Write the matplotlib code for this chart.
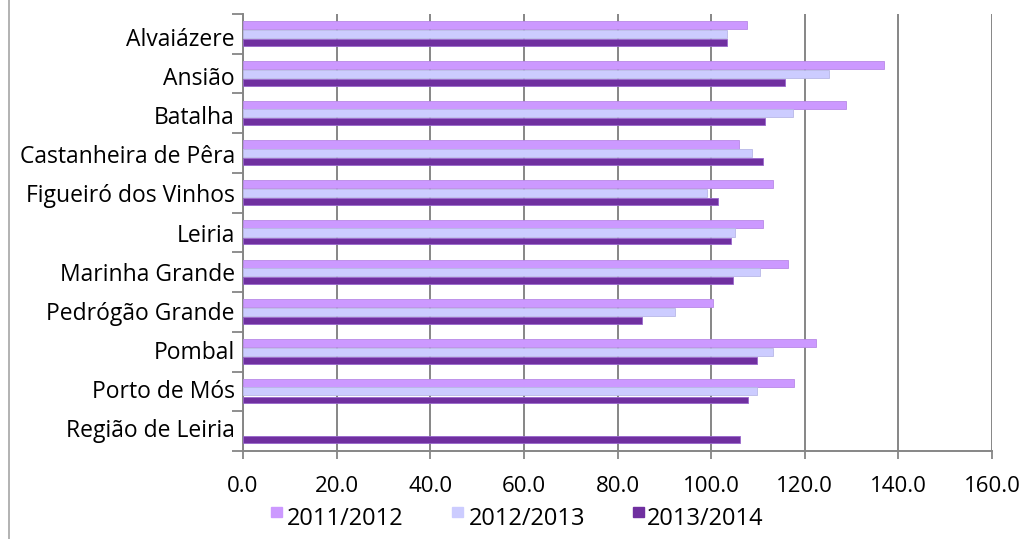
import matplotlib
matplotlib.use("Agg")
import matplotlib.pyplot as plt
import numpy as np
from matplotlib import font_manager
from matplotlib.lines import Line2D
from matplotlib.patches import Rectangle
from matplotlib.transforms import ScaledTranslation, blended_transform_factory

categories = ["Alvaiázere", "Ansião", "Batalha", "Castanheira de Pêra",
              "Figueiró dos Vinhos", "Leiria", "Marinha Grande",
              "Pedrógão Grande", "Pombal", "Porto de Mós", "Região de Leiria"]
series_names = ["2011/2012", "2012/2013", "2013/2014"]
v_2011 = [107.6, 137.0, 128.8, 105.9, 113.2, 111.0, 116.5, 100.3, 122.3, 117.7, np.nan]
v_2012 = [103.3, 125.2, 117.4, 108.8, 99.1, 105.0, 110.5, 92.2, 113.2, 109.9, np.nan]
v_2013 = [103.3, 115.8, 111.6, 111.0, 101.4, 104.2, 104.7, 85.2, 109.8, 107.9, 106.2]
x_ticks = [0, 20, 40, 60, 80, 100, 120, 140, 160]
colors = ["#CC99FF", "#CCCCFF", "#7030A0"]

installed = {f.name for f in font_manager.fontManager.ttflist}
font = "Open Sans" if "Open Sans" in installed else "DejaVu Sans"

W, H = 1027, 539
fig = plt.figure(figsize=(W / 100, H / 100), dpi=100)
ax = fig.add_axes([243 / W, 1 - 451 / H, (992 - 243) / W, (451 - 14) / H])

n = len(categories)
y = np.arange(n)
step = 0.215
grey = "#868686"

for vals, off, col, edge, bh in zip([v_2011, v_2012, v_2013], [-step, 0, step], colors,
                                    ["#B88AE6", "#B8B8E6", "#9966CC"], [0.205, 0.205, 0.17]):
    ax.barh(y + off, vals, height=bh, color=col, edgecolor=edge, linewidth=0.6, zorder=3)

ax.set_xlim(0, 160)
ax.set_ylim(n - 0.5, -0.5)
ax.set_xticks(x_ticks)
ax.set_xticklabels([f"{t:.1f}" for t in x_ticks], fontfamily=font, fontsize=16)
ax.set_yticks([])
ax.set_yticks(np.arange(n + 1) - 0.5, minor=True)
ax.tick_params(axis="y", which="minor", length=8, color=grey, width=1.3)
ax.tick_params(axis="x", which="major", length=6, color=grey, width=1.3, pad=12)
ax.grid(axis="x", color=grey, linewidth=1.4, zorder=0)
ax.set_axisbelow(True)
for s in ["top", "right"]:
    ax.spines[s].set_visible(False)
for s in ["left", "bottom"]:
    ax.spines[s].set_color(grey)
    ax.spines[s].set_linewidth(1.4)

# category labels, right-aligned next to the axis
lab_tr = blended_transform_factory(ax.transAxes, ax.transData)
for i, name in enumerate(categories):
    shift = (6.0 - 0.6 * i) / 100
    tr = lab_tr + ScaledTranslation(-8 / 100, -shift, fig.dpi_scale_trans)
    ax.text(0, i, name, transform=tr, ha="right", va="center",
            fontfamily=font, fontsize=16.5)

# frame line on the left of the chart area
fig.add_artist(Line2D([9 / W, 9 / W], [0, 1], color="#A6A6A6", lw=1.2,
                      transform=fig.transFigure))

# legend: small squares with labels
leg_items = [(271, 287), (452, 469), (633, 647)]
for (sx, tx), name, col in zip(leg_items, series_names, colors):
    fig.add_artist(Rectangle((sx / W, 1 - 517 / H), 11 / W, 10 / H,
                             color=col, transform=fig.transFigure))
    fig.text(tx / W, 1 - 519 / H, name, fontfamily=font, fontsize=17,
             va="center", ha="left")

fig.savefig("out.png", dpi=100)
